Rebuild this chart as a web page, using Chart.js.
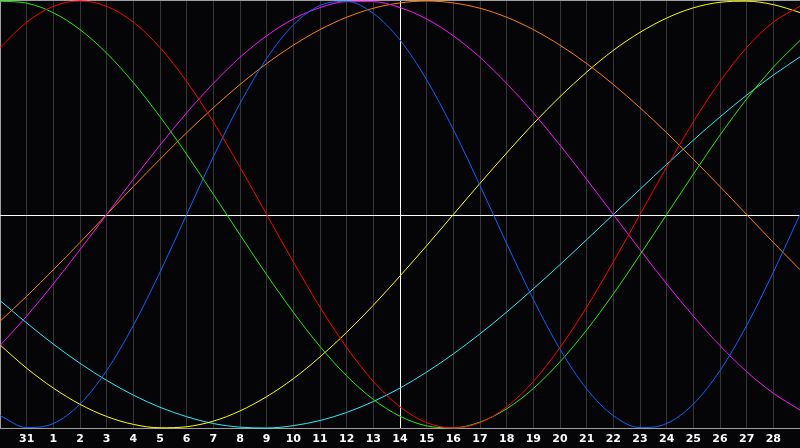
<!DOCTYPE html>
<html>
<head>
<meta charset="utf-8">
<script src="https://cdn.jsdelivr.net/npm/chart.js@4"></script>
<style>
  html, body { margin: 0; padding: 0; background: #050508; }
  canvas { display: block; }
</style>
</head>
<body>
<canvas id="bioChart" width="800" height="448"></canvas>
<script>
// Biorhythm chart, 30 Jan .. 1 Mar, centre day = 14 Feb
const dayLabels = ['', '31', '1', '2', '3', '4', '5', '6', '7', '8', '9', '10', '11', '12', '13',
    '14', '15', '16', '17', '18', '19', '20', '21', '22', '23', '24', '25', '26', '27', '28', ''];
const todayIndex = 15;

// cycle values in percent, one per day (index 0..30)
const physical = [-94.2, -99.8, -97.9, -88.8, -73.1, -52.0, -27.0, 0, 27.0, 52.0, 73.1, 88.8, 97.9, 99.8, 94.2, 81.7,
    63.1, 39.8, 13.6, -13.6, -39.8, -63.1, -81.7, -94.2, -99.8, -97.9, -88.8, -73.1, -52.0, -27.0, 0];
const emotional = [78.2, 90.1, 97.5, 100, 97.5, 90.1, 78.2, 62.3, 43.4, 22.2, 0, -22.2, -43.4, -62.3, -78.2, -90.1,
    -97.5, -100, -97.5, -90.1, -78.2, -62.3, -43.4, -22.2, 0, 22.2, 43.4, 62.3, 78.2, 90.1, 97.5];
const intellectual = [99.9, 99.0, 94.5, 86.6, 75.6, 61.8, 45.8, 28.2, 9.5, -9.5, -28.2, -45.8, -61.8, -75.6, -86.6, -94.5,
    -99.0, -99.9, -97.2, -91.0, -81.5, -69.0, -54.1, -37.2, -18.9, 0, 18.9, 37.2, 54.1, 69.0, 81.5];
const intuitive = [-61.4, -47.6, -32.5, -16.5, 0, 16.5, 32.5, 47.6, 61.4, 73.6, 83.7, 91.6, 96.9, 99.7, 99.7, 96.9,
    91.6, 83.7, 73.6, 61.4, 47.6, 32.5, 16.5, 0, -16.5, -32.5, -47.6, -61.4, -73.6, -83.7, -91.6];
const awareness = [-50.0, -38.3, -25.9, -13.1, 0, 13.1, 25.9, 38.3, 50.0, 60.9, 70.7, 79.3, 86.6, 92.4, 96.6, 99.1,
    100, 99.1, 96.6, 92.4, 86.6, 79.3, 70.7, 60.9, 50.0, 38.3, 25.9, 13.1, 0, -13.1, -25.9];
const aesthetic = [-61.1, -72.0, -81.3, -88.9, -94.6, -98.3, -99.9, -99.4, -96.8, -92.0, -85.3, -76.9, -66.7, -55.2, -42.5, -28.8,
    -14.6, 0, 14.6, 28.8, 42.5, 55.2, 66.7, 76.9, 85.3, 92.0, 96.8, 99.4, 99.9, 98.3, 94.6];
const spiritual = [-40.3, -50.8, -60.7, -69.7, -77.7, -84.6, -90.3, -94.7, -97.9, -99.6, -100, -98.9, -96.5, -92.7, -87.6, -81.3,
    -73.8, -65.3, -55.9, -45.7, -34.8, -23.5, -11.8, 0, 11.8, 23.5, 34.8, 45.7, 55.9, 65.3, 73.8];

function toPoints(values) {
    return values.map((v, i) => ({ x: i, y: v }));
}

function series(label, values, color) {
    return {
        label: label,
        data: toPoints(values),
        borderColor: color,
        borderWidth: 1,
        pointRadius: 0,
        cubicInterpolationMode: 'monotone',
        fill: false
    };
}

// background, frame and the white centre cross
const framePlugin = {
    id: 'frame',
    beforeDraw(chart) {
        const ctx = chart.ctx;
        ctx.save();
        ctx.fillStyle = '#050508';
        ctx.fillRect(0, 0, chart.width, chart.height);
        ctx.restore();
    },
    beforeDatasetsDraw(chart) {
        const ctx = chart.ctx;
        const area = chart.chartArea;
        const x = chart.scales.x;
        const y = chart.scales.y;
        ctx.save();
        ctx.lineWidth = 1;
        ctx.strokeStyle = '#a0a0a0';
        ctx.beginPath();
        ctx.moveTo(0, 0.5);
        ctx.lineTo(chart.width, 0.5);
        ctx.moveTo(0.5, 0);
        ctx.lineTo(0.5, area.bottom);
        ctx.stroke();
        ctx.strokeStyle = '#ffffff';
        const cy = Math.round(y.getPixelForValue(0)) + 0.5;
        const cx = Math.round(x.getPixelForValue(todayIndex)) + 0.5;
        ctx.beginPath();
        ctx.moveTo(area.left, cy);
        ctx.lineTo(area.right, cy);
        ctx.moveTo(cx, area.top);
        ctx.lineTo(cx, area.bottom);
        ctx.stroke();
        ctx.restore();
    }
};

const ctx = document.getElementById('bioChart').getContext('2d');
new Chart(ctx, {
    type: 'line',
    data: {
        datasets: [
            series('Physical', physical, '#0a64ff'),
            series('Emotional', emotional, '#ff0000'),
            series('Intellectual', intellectual, '#22ee00'),
            series('Intuitive', intuitive, '#ff10ff'),
            series('Awareness', awareness, '#ff8000'),
            series('Aesthetic', aesthetic, '#ffff00'),
            series('Spiritual', spiritual, '#22eeff')
        ]
    },
    options: {
        responsive: false,
        animation: false,
        devicePixelRatio: 1,
        layout: { padding: { top: 1, left: 0, right: 0, bottom: 0 } },
        clip: false,
        plugins: {
            legend: { display: false },
            tooltip: { enabled: false }
        },
        scales: {
            x: {
                type: 'linear',
                min: 0,
                max: 30,
                afterFit: scale => {
                    scale.paddingLeft = 0;
                    scale.paddingRight = 0;
                    scale.height = 20;
                },
                border: { display: true, color: '#a0a0a0', width: 1 },
                grid: {
                    drawTicks: false,
                    lineWidth: 1,
                    color: c => (c.tick.value === 0 || c.tick.value === 30 || c.tick.value === todayIndex)
                        ? 'rgba(0,0,0,0)' : '#353535'
                },
                ticks: {
                    stepSize: 1,
                    autoSkip: false,
                    maxRotation: 0,
                    padding: 5,
                    color: '#ffffff',
                    font: { family: 'DejaVu Sans', size: 11, weight: 'bold' },
                    callback: value => dayLabels[value]
                }
            },
            y: {
                display: false,
                min: -100,
                max: 100
            }
        }
    },
    plugins: [framePlugin]
});
</script>
</body>
</html>
